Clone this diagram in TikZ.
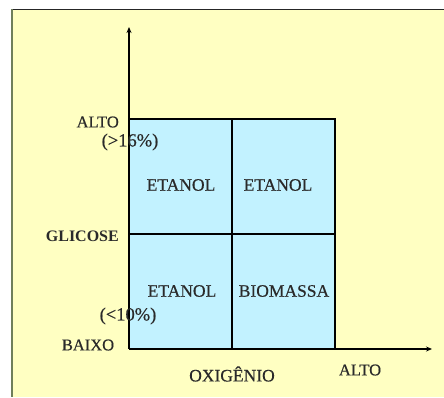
\documentclass[tikz,border=0pt]{standalone}
\usepackage{fontspec}
\setmainfont{Liberation Serif}
\newfontfamily\heavyserif{Liberation Serif}[FakeBold=0.5]
\usetikzlibrary{arrows.meta}
\definecolor{bgyellow}{HTML}{FFFFC2}
\definecolor{cellcyan}{HTML}{C2F2FF}
\definecolor{frameline}{HTML}{6F7F5A}
\definecolor{txtgray}{HTML}{2A2A2A}
\tikzset{
  lbl/.style={inner sep=0pt, text=txtgray, font=\heavyserif\fontsize{16.5}{16.5}\selectfont},
  celltxt/.style={inner sep=0pt, text=txtgray, font=\heavyserif\fontsize{17.5}{17.5}\selectfont},
  pct/.style={inner sep=0pt, text=txtgray, font=\heavyserif\fontsize{18.5}{18.5}\selectfont},
  axis/.style={line width=1.6pt, -{Stealth[length=6pt,width=5pt]}},
  grid/.style={line width=1.6pt}
}
\begin{document}
\begin{tikzpicture}[x=1pt,y=-1pt]
\useasboundingbox (0,0) rectangle (444,397);
\fill[bgyellow] (12,9) rectangle (444,397);
\draw[line width=1.6pt, black!85] (12,9.5) -- (444,9.5);
\draw[line width=1.6pt, frameline] (12,9) -- (12,397);
% coordinates
\coordinate (O) at (129,349);
\coordinate (ytop) at (129,27);
\coordinate (xend) at (432,349);
\coordinate (BR) at (335,119);
% cells
\fill[cellcyan] (O) rectangle (BR);
\draw[grid] (129,119) -- (335,119) -- (335,349);
\draw[grid] (232,119) -- (232,349);
\draw[grid] (129,234) -- (335,234);
% axes
\draw[axis] (O) -- (ytop);
\draw[axis] (O) -- (xend);
% labels
\node[lbl, anchor=east] (altoy) at (119,122) {ALTO};
\node[pct] (p16) at (130,142) {(>16\%)};
\node[celltxt] (e1) at (181,185) {ETANOL};
\node[celltxt] (e2) at (278,185) {ETANOL};
\node[lbl, anchor=east, font=\bfseries\fontsize{16}{16}\selectfont] (glic) at (119,236) {GLICOSE};
\node[celltxt] (e3) at (182,291) {ETANOL};
\node[celltxt] (bio) at (284,291) {BIOMASSA};
\node[pct] (p10) at (128,316) {(<10\%)};
\node[lbl] (baixo) at (88,345) {BAIXO};
\node[lbl, font=\heavyserif\fontsize{17.5}{17.5}\selectfont] (oxi) at (232,374) {OXIGÊNIO};
\node[lbl] (altox) at (360,370) {ALTO};
\end{tikzpicture}
\end{document}
